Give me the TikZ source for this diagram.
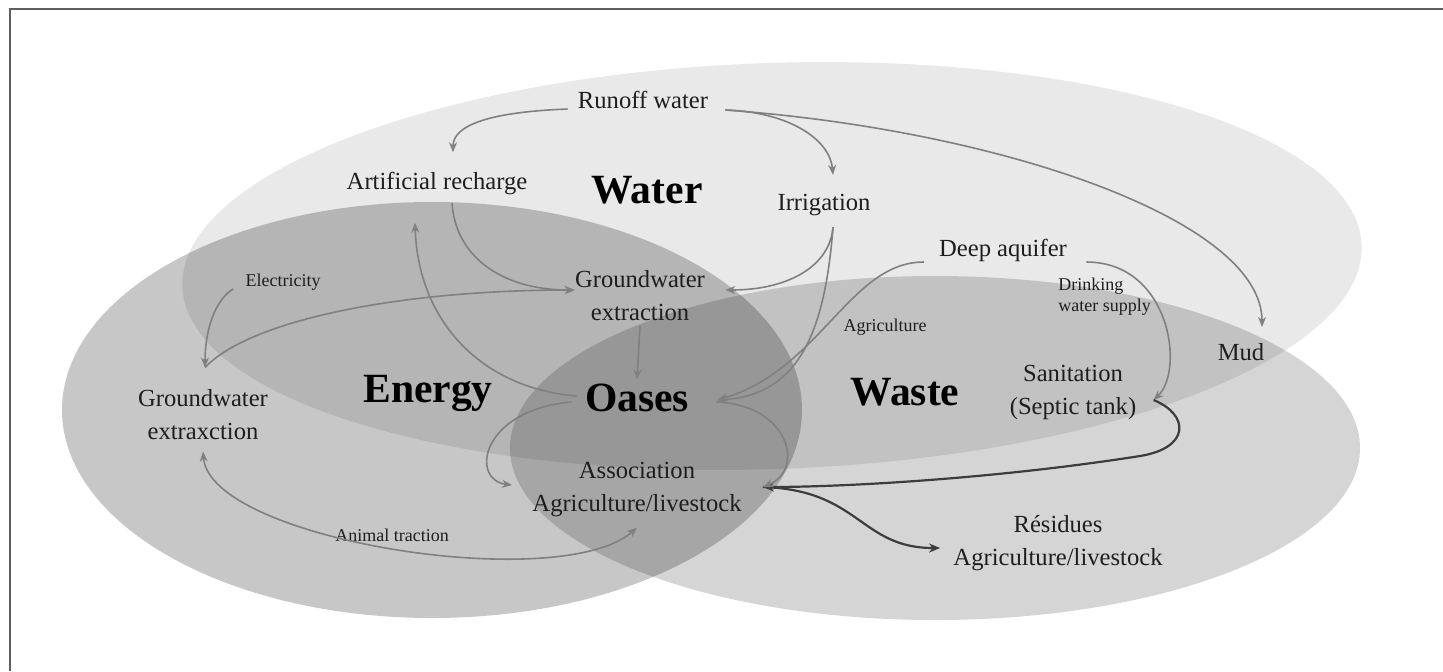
\documentclass[tikz,border=0pt]{standalone}
\usepackage{fontspec}
\setmainfont{Liberation Serif}
\usetikzlibrary{arrows.meta}
\definecolor{arrgray}{RGB}{128,128,128}
\definecolor{darkarr}{RGB}{60,60,60}
\definecolor{txt}{RGB}{30,30,30}
\definecolor{frame}{RGB}{95,95,95}
\begin{document}
\begin{tikzpicture}[x=0.5pt,y=-0.5pt,
  lbl/.style={inner sep=2pt,align=center,text=txt,font=\fontsize{12.3}{16.5}\selectfont},
  smalllbl/.style={inner sep=1.5pt,align=center,text=txt,font=\fontsize{9}{10.5}\selectfont},
  biglbl/.style={inner sep=2pt,text=black,font=\fontsize{20.8}{24}\selectfont\bfseries},
  arr/.style={draw=arrgray,line width=0.8pt,-{Stealth[length=5pt,width=4pt]}},
  darr/.style={draw=darkarr,line width=1.1pt,-{Stealth[length=5.5pt,width=4.5pt]}},
  dblarr/.style={draw=arrgray,line width=0.8pt,{Stealth[length=5pt,width=4pt]}-{Stealth[length=5pt,width=4pt]}},
  setfill/.style={fill=black,fill opacity=#1}]
\useasboundingbox (0,0) rectangle (1443,671);
\fill[white] (0,0) rectangle (1443,671);
% frame
\draw[frame,line width=1pt] (10,671) -- (10,9) -- (1443,9);
% sets
\fill[setfill=0.085,rotate around={2:(772,266)}] (772,266) ellipse [x radius=590, y radius=203];
\fill[setfill=0.22] (432,410) ellipse [x radius=370, y radius=208];
\fill[setfill=0.165] (935,448) ellipse [x radius=425, y radius=172];
% labels
\node[lbl] (runoff) at (643,100) {Runoff water};
\node[lbl] (artrech) at (437,183) {Artificial recharge};
\node[biglbl] (water) at (647,190) {Water};
\node[lbl] (irrig) at (824,205) {Irrigation};
\node[lbl] (deep) at (1003,250) {Deep aquifer};
\node[smalllbl,anchor=west,align=left] (drink) at (1055,297) {Drinking\\water supply};
\node[smalllbl] (elec) at (283,282) {Electricity};
\node[lbl] (gwc) at (640,296) {Groundwater\\extraction};
\node[smalllbl] (agri) at (885,327) {Agriculture};
\node[lbl] (mud) at (1241,352) {Mud};
\node[lbl] (gwl) at (203,415) {Groundwater\\extraxction};
\node[biglbl] (energy) at (428,393) {Energy};
\node[biglbl] (oases) at (637,398) {Oases};
\node[biglbl] (waste) at (905,392) {Waste};
\node[lbl] (sanit) at (1073,392) {Sanitation\\(Septic tank)};
\node[lbl] (assoc) at (637,489) {Association\\Agriculture/livestock};
\node[smalllbl] (animal) at (392,535) {Animal traction};
\node[lbl] (resid) at (1058,543) {Résidues\\Agriculture/livestock};
% connectors
\draw[arr] ([shift={(-6,9)}]runoff.west) .. controls (490,112) and (453,125) .. ([shift={(16,-15)}]artrech.north);
\draw[arr] ([shift={(13,10)}]runoff.east) .. controls (790,112) and (830,140) .. ([shift={(9,-15)}]irrig.north);
\draw[arr] ([shift={(13,10)}]runoff.east) .. controls (1000,130) and (1262,220) .. ([shift={(21,-12)}]mud.north);
\draw[arr] ([shift={(15,4)}]artrech.south) .. controls (455,255) and (500,290) .. ([shift={(4,-6)}]gwc.west);
\draw[arr] ([shift={(-4,-2)}]oases.west) .. controls (480,388) and (418,320) .. ([shift={(-22,24)}]artrech.south);
\draw[arr] ([shift={(-9,7)}]elec.west) .. controls (215,300) and (205,330) .. ([shift={(2,-18)}]gwl.north);
\draw[arr] ([shift={(2,-18)}]gwl.north) .. controls (250,320) and (400,290) .. ([shift={(4,-6)}]gwc.west);
\draw[arr] ([shift={(9,7)}]irrig.south) .. controls (830,265) and (790,290) .. ([shift={(16,-6)}]gwc.east);
\draw[arr] ([shift={(9,7)}]irrig.south) .. controls (825,330) and (800,395) .. ([shift={(24,2)}]oases.east);
\draw[arr] ([shift={(-11,12)}]deep.west) .. controls (850,262) and (820,370) .. ([shift={(24,2)}]oases.east);
\draw[arr] ([shift={(15,12)}]deep.east) .. controls (1170,262) and (1185,370) .. ([shift={(13,8)}]sanit.east);
\draw[darr] ([shift={(13,8)}]sanit.east) .. controls (1190,415) and (1190,448) .. (1140,456) .. controls (1000,478) and (850,487) .. ([shift={(17,-2)}]assoc.east);
\draw[darr] ([shift={(17,-2)}]assoc.east) .. controls (860,490) and (860,548) .. ([shift={(-9,5)}]resid.west);
\draw[arr] ([shift={(-9,4)}]oases.west) .. controls (480,410) and (470,480) .. ([shift={(-16,-4)}]assoc.west);
\draw[arr] ([shift={(23,4)}]oases.east) .. controls (790,405) and (805,470) .. ([shift={(17,-2)}]assoc.east);
\draw[arr] (gwc.south) -- (oases.north);
\draw[dblarr] ([shift={(0,7)}]gwl.south) .. controls (210,540) and (560,595) .. ([shift={(0,7)}]assoc.south);
\end{tikzpicture}
\end{document}
